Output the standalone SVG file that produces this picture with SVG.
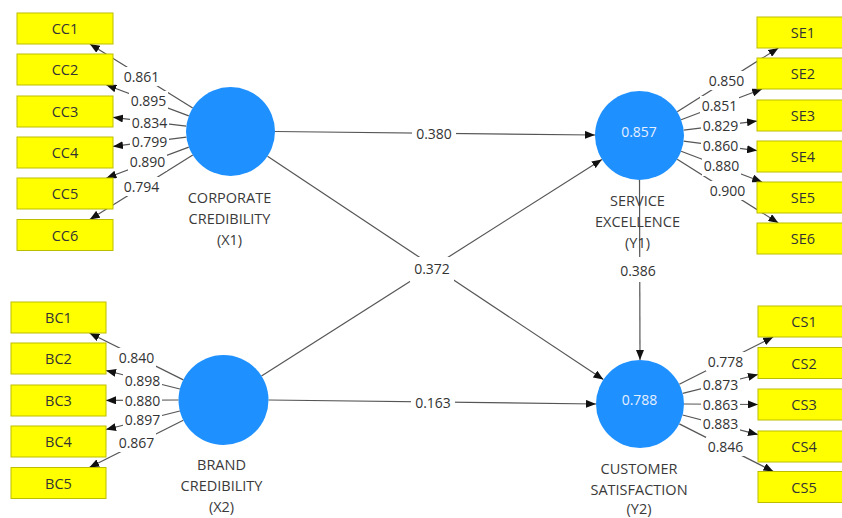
<svg xmlns="http://www.w3.org/2000/svg" width="842" height="518" viewBox="0 0 842 518">
<style>
.bg{fill:#ffffff}
.box{fill:#ffff00;stroke:#bdbd00;stroke-width:1}
.bt{font-family:"Open Sans","Liberation Sans",sans-serif;font-size:14.5px;fill:#333333;text-anchor:middle}
.lv{fill:#1e90ff}
.lvt{font-family:"Open Sans","Liberation Sans",sans-serif;font-size:14px;fill:#e6efff;text-anchor:middle}
.nl{font-family:"Open Sans","Liberation Sans",sans-serif;font-size:14.5px;fill:#3a3a3a;text-anchor:middle}
.ln{stroke:#555555;stroke-width:1.2;fill:none;marker-end:url(#ah)}
.lb{fill:#ffffff}
.num{font-family:"Open Sans","Liberation Sans",sans-serif;font-size:14px;fill:#333333;text-anchor:middle}
</style>
<defs>
<marker id="ah" markerUnits="userSpaceOnUse" markerWidth="10" markerHeight="8" refX="10" refY="4" orient="auto">
<path d="M0,0 L10,4 L0,8 Z" fill="#111111"/>
</marker>
</defs>
<rect class="bg" x="0" y="0" width="842" height="518"/>

<g id="connectors">
<line class="ln" x1="275" y1="131.5" x2="595" y2="135"/>
<line class="ln" x1="267.5" y1="156.2" x2="603.4" y2="379.6"/>
<line class="ln" x1="261.5" y1="375.9" x2="601.9" y2="159.4"/>
<line class="ln" x1="268.5" y1="400" x2="596" y2="404"/>
<line class="ln" x1="639.5" y1="180" x2="640" y2="360"/>
<line class="ln" x1="192.7" y1="108" x2="89.9" y2="44"/>
<line class="ln" x1="188.8" y1="115.9" x2="106.4" y2="85"/>
<line class="ln" x1="186.3" y1="126.2" x2="113" y2="117.3"/>
<line class="ln" x1="186.4" y1="137.1" x2="113" y2="146.4"/>
<line class="ln" x1="188.8" y1="147.1" x2="106.4" y2="178"/>
<line class="ln" x1="192.8" y1="155.1" x2="89.8" y2="219.5"/>
<line class="ln" x1="677.2" y1="111.8" x2="778.4" y2="48"/>
<line class="ln" x1="681.1" y1="119.7" x2="762.1" y2="89"/>
<line class="ln" x1="683.7" y1="130.1" x2="757" y2="121.1"/>
<line class="ln" x1="683.6" y1="141.2" x2="757" y2="150.6"/>
<line class="ln" x1="681.1" y1="151.3" x2="762.1" y2="182"/>
<line class="ln" x1="677.2" y1="159.2" x2="778.4" y2="223"/>
<line class="ln" x1="183.3" y1="379.9" x2="89.5" y2="333"/>
<line class="ln" x1="179.9" y1="389" x2="106" y2="370.5"/>
<line class="ln" x1="178.5" y1="400" x2="106" y2="400.4"/>
<line class="ln" x1="179.9" y1="411" x2="106" y2="429.5"/>
<line class="ln" x1="183.3" y1="420.2" x2="89.3" y2="467.5"/>
<line class="ln" x1="679.3" y1="384.2" x2="773.2" y2="337"/>
<line class="ln" x1="682.7" y1="393.3" x2="758" y2="374.5"/>
<line class="ln" x1="684" y1="404" x2="758" y2="404.5"/>
<line class="ln" x1="682.6" y1="415" x2="758" y2="434.6"/>
<line class="ln" x1="679.3" y1="423.9" x2="773.4" y2="471.5"/>

<rect class="lb" x="412" y="122" width="44" height="24"/><text class="num" x="434" y="139">0.380</text>
<rect class="lb" x="410" y="257" width="44" height="25"/><text class="num" x="432" y="274">0.372</text>
<rect class="lb" x="411" y="391" width="44" height="24"/><text class="num" x="433" y="408">0.163</text>
<rect class="lb" x="616" y="257" width="44" height="25"/><text class="num" x="638" y="275.5">0.386</text>

<rect class="lb" x="122" y="67" width="39" height="19"/><text class="num" x="141.5" y="82">0.861</text>
<rect class="lb" x="129" y="91" width="39" height="19"/><text class="num" x="148.5" y="106">0.895</text>
<rect class="lb" x="130" y="113" width="39" height="19"/><text class="num" x="149.5" y="127.5">0.834</text>
<rect class="lb" x="130" y="132" width="39" height="19"/><text class="num" x="149.5" y="146.5">0.799</text>
<rect class="lb" x="128" y="152" width="39" height="19"/><text class="num" x="147.5" y="166.5">0.890</text>
<rect class="lb" x="122" y="177" width="39" height="19"/><text class="num" x="141.5" y="191.5">0.794</text>

<rect class="lb" x="707" y="71" width="39" height="19"/><text class="num" x="726.5" y="86">0.850</text>
<rect class="lb" x="700" y="96" width="39" height="19"/><text class="num" x="719.5" y="111">0.851</text>
<rect class="lb" x="701" y="116" width="39" height="19"/><text class="num" x="720.5" y="131">0.829</text>
<rect class="lb" x="701" y="136" width="39" height="19"/><text class="num" x="720.5" y="151">0.860</text>
<rect class="lb" x="702" y="157" width="39" height="19"/><text class="num" x="721.5" y="171">0.880</text>
<rect class="lb" x="708" y="181" width="39" height="19"/><text class="num" x="727.5" y="195.5">0.900</text>

<rect class="lb" x="117" y="348" width="39" height="19"/><text class="num" x="136.5" y="363">0.840</text>
<rect class="lb" x="123" y="371" width="39" height="19"/><text class="num" x="142.5" y="385.5">0.898</text>
<rect class="lb" x="123" y="391" width="39" height="19"/><text class="num" x="142.5" y="405.5">0.880</text>
<rect class="lb" x="123" y="411" width="39" height="19"/><text class="num" x="142.5" y="425">0.897</text>
<rect class="lb" x="117" y="433" width="39" height="19"/><text class="num" x="136.5" y="447.5">0.867</text>

<rect class="lb" x="706" y="352" width="39" height="19"/><text class="num" x="725.5" y="366.5">0.778</text>
<rect class="lb" x="701" y="375" width="39" height="19"/><text class="num" x="720.5" y="390">0.873</text>
<rect class="lb" x="701" y="395" width="39" height="19"/><text class="num" x="720.5" y="409.5">0.863</text>
<rect class="lb" x="701" y="415" width="39" height="19"/><text class="num" x="720.5" y="429">0.883</text>
<rect class="lb" x="706" y="437" width="39" height="19"/><text class="num" x="725.5" y="451.5">0.846</text>
</g>

<g id="X1">
<circle class="lv" cx="230.5" cy="131.5" r="44.5"/>
<text class="nl" x="229.5" y="203">CORPORATE</text>
<text class="nl" x="229.5" y="224">CREDIBILITY</text>
<text class="nl" x="229.5" y="245">(X1)</text>
</g>
<g id="Y1">
<circle class="lv" cx="639.5" cy="135.5" r="44.5"/>
<text class="lvt" x="639" y="137">0.857</text>
<text class="nl" x="637.5" y="206">SERVICE</text>
<text class="nl" x="637.5" y="227">EXCELLENCE</text>
<text class="nl" x="637.5" y="248">(Y1)</text>
</g>
<g id="X2">
<circle class="lv" cx="223.5" cy="400" r="45"/>
<text class="nl" x="221.5" y="470">BRAND</text>
<text class="nl" x="221.5" y="491">CREDIBILITY</text>
<text class="nl" x="221.5" y="512">(X2)</text>
</g>
<g id="Y2">
<circle class="lv" cx="640" cy="404" r="44"/>
<text class="lvt" x="639.5" y="405">0.788</text>
<text class="nl" x="639" y="474">CUSTOMER</text>
<text class="nl" x="639" y="494.5">SATISFACTION</text>
<text class="nl" x="639" y="514">(Y2)</text>
</g>

<g id="CC1"><rect class="box" x="17" y="13" width="96" height="31"/><text class="bt" x="65" y="34">CC1</text></g>
<g id="CC2"><rect class="box" x="17" y="54" width="96" height="31"/><text class="bt" x="65" y="75">CC2</text></g>
<g id="CC3"><rect class="box" x="17" y="96" width="96" height="31"/><text class="bt" x="65" y="117">CC3</text></g>
<g id="CC4"><rect class="box" x="17" y="137" width="96" height="31"/><text class="bt" x="65" y="158">CC4</text></g>
<g id="CC5"><rect class="box" x="17" y="178" width="96" height="31"/><text class="bt" x="65" y="199">CC5</text></g>
<g id="CC6"><rect class="box" x="17" y="219.5" width="96" height="31"/><text class="bt" x="65" y="240.5">CC6</text></g>

<g id="SE1"><rect class="box" x="757" y="17" width="96" height="31"/><text class="bt" x="803" y="38">SE1</text></g>
<g id="SE2"><rect class="box" x="757" y="58" width="96" height="31"/><text class="bt" x="803" y="79">SE2</text></g>
<g id="SE3"><rect class="box" x="757" y="100" width="96" height="31"/><text class="bt" x="803" y="121">SE3</text></g>
<g id="SE4"><rect class="box" x="757" y="141" width="96" height="31"/><text class="bt" x="803" y="162">SE4</text></g>
<g id="SE5"><rect class="box" x="757" y="182" width="96" height="31"/><text class="bt" x="803" y="203">SE5</text></g>
<g id="SE6"><rect class="box" x="757" y="223" width="96" height="31"/><text class="bt" x="803" y="244">SE6</text></g>

<g id="BC1"><rect class="box" x="11" y="302" width="95" height="31"/><text class="bt" x="58.5" y="323">BC1</text></g>
<g id="BC2"><rect class="box" x="11" y="343" width="95" height="31"/><text class="bt" x="58.5" y="364">BC2</text></g>
<g id="BC3"><rect class="box" x="11" y="385" width="95" height="31"/><text class="bt" x="58.5" y="406">BC3</text></g>
<g id="BC4"><rect class="box" x="11" y="426" width="95" height="31"/><text class="bt" x="58.5" y="447">BC4</text></g>
<g id="BC5"><rect class="box" x="11" y="467.5" width="95" height="31"/><text class="bt" x="58.5" y="488.5">BC5</text></g>

<g id="CS1"><rect class="box" x="758" y="306" width="96" height="31"/><text class="bt" x="804" y="327">CS1</text></g>
<g id="CS2"><rect class="box" x="758" y="347.5" width="96" height="31"/><text class="bt" x="804" y="368.5">CS2</text></g>
<g id="CS3"><rect class="box" x="758" y="389" width="96" height="31"/><text class="bt" x="804" y="410">CS3</text></g>
<g id="CS4"><rect class="box" x="758" y="431" width="96" height="31"/><text class="bt" x="804" y="452">CS4</text></g>
<g id="CS5"><rect class="box" x="758" y="471.5" width="96" height="31"/><text class="bt" x="804" y="492.5">CS5</text></g>
</svg>
